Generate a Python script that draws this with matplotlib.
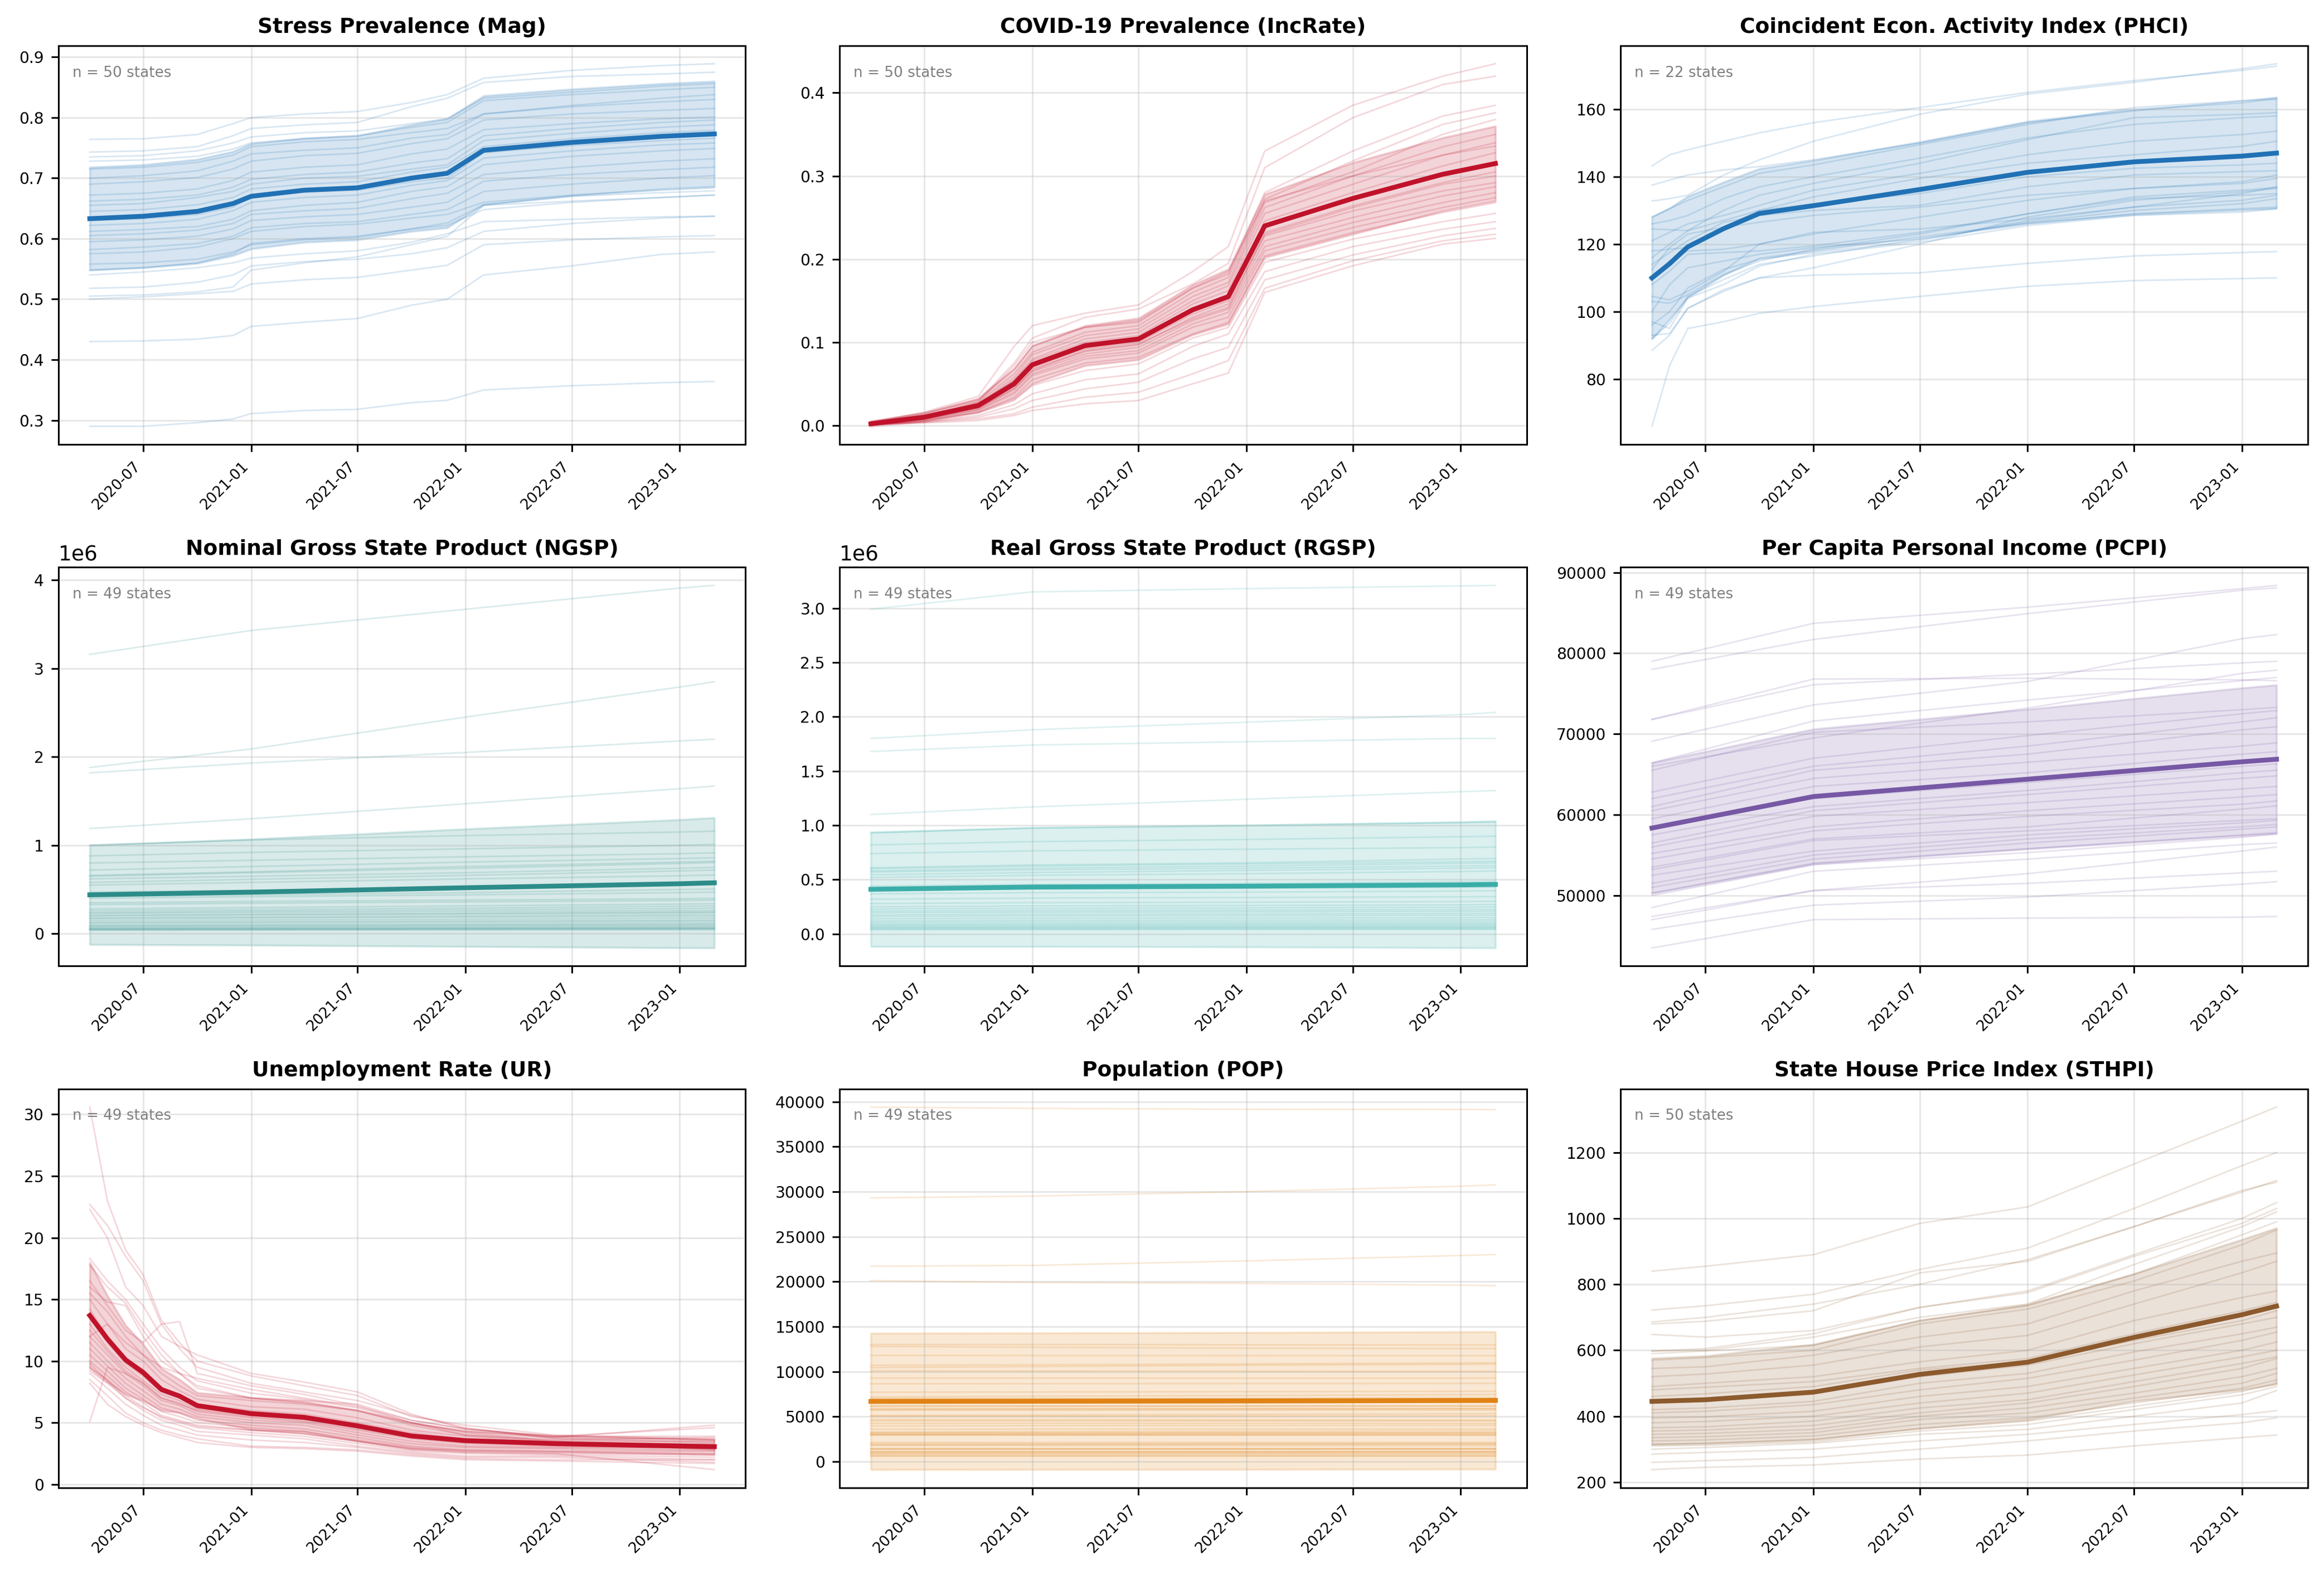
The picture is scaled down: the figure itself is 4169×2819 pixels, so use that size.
"""State-level indicator panels: thin state lines, mean +/- 1 sd band, bold mean."""
import numpy as np
import pandas as pd
import matplotlib

matplotlib.use("Agg")
import matplotlib.pyplot as plt
import matplotlib.dates as mdates

DPI = 270

COLORS = {
    "stress": "#2171b5",
    "covid": "#c0122a",
    "phci": "#2171b5",
    "ngsp": "#2c8c89",
    "rgsp": "#3aada8",
    "pcpi": "#7758a5",
    "ur": "#c0122a",
    "pop": "#e08214",
    "sthpi": "#8c5a2d",
}

# --- Stress prevalence (Mag) -------------------------------------------------
STRESS_DATES = ["2020-04", "2020-07", "2020-10", "2020-12", "2021-01", "2021-04", "2021-07",
                "2021-10", "2021-12", "2022-02", "2022-07", "2022-12", "2023-03"]
STRESS_MEAN = [0.633, 0.637, 0.645, 0.658, 0.670, 0.680, 0.684, 0.700, 0.708, 0.746, 0.759, 0.769, 0.773]
STRESS_STD = [0.085, 0.085, 0.086, 0.086, 0.087, 0.086, 0.086, 0.088, 0.090, 0.090, 0.088, 0.087, 0.087]
STRESS_STATES = [
    [0.764, 0.765, 0.772, 0.790, 0.800, 0.806, 0.810, 0.825, 0.838, 0.865, 0.878, 0.886, 0.889],
    [0.743, 0.745, 0.752, 0.770, 0.782, 0.788, 0.792, 0.818, 0.832, 0.858, 0.868, 0.872, 0.875],
    [0.735, 0.737, 0.745, 0.758, 0.768, 0.775, 0.778, 0.790, 0.798, 0.832, 0.842, 0.852, 0.856],
    [0.728, 0.730, 0.736, 0.748, 0.758, 0.765, 0.770, 0.784, 0.792, 0.828, 0.838, 0.846, 0.850],
    [0.715, 0.718, 0.726, 0.738, 0.752, 0.760, 0.764, 0.775, 0.782, 0.806, 0.820, 0.832, 0.838],
    [0.700, 0.704, 0.712, 0.728, 0.740, 0.746, 0.750, 0.766, 0.772, 0.806, 0.818, 0.826, 0.830],
    [0.690, 0.694, 0.701, 0.715, 0.728, 0.737, 0.741, 0.757, 0.765, 0.796, 0.806, 0.812, 0.815],
    [0.672, 0.675, 0.682, 0.696, 0.710, 0.718, 0.722, 0.740, 0.748, 0.780, 0.790, 0.798, 0.801],
    [0.662, 0.665, 0.672, 0.685, 0.698, 0.706, 0.710, 0.725, 0.732, 0.770, 0.782, 0.792, 0.796],
    [0.655, 0.658, 0.668, 0.678, 0.690, 0.700, 0.703, 0.715, 0.722, 0.762, 0.774, 0.784, 0.788],
    [0.645, 0.648, 0.656, 0.668, 0.682, 0.690, 0.694, 0.710, 0.718, 0.752, 0.765, 0.775, 0.779],
    [0.630, 0.633, 0.640, 0.652, 0.668, 0.677, 0.680, 0.694, 0.700, 0.742, 0.754, 0.762, 0.766],
    [0.622, 0.625, 0.632, 0.646, 0.660, 0.668, 0.672, 0.688, 0.696, 0.733, 0.745, 0.755, 0.758],
    [0.612, 0.615, 0.620, 0.632, 0.646, 0.655, 0.660, 0.678, 0.686, 0.722, 0.736, 0.745, 0.749],
    [0.605, 0.608, 0.614, 0.625, 0.640, 0.646, 0.650, 0.666, 0.675, 0.706, 0.718, 0.728, 0.732],
    [0.595, 0.598, 0.604, 0.616, 0.630, 0.636, 0.640, 0.652, 0.660, 0.695, 0.706, 0.714, 0.718],
    [0.582, 0.586, 0.592, 0.604, 0.618, 0.625, 0.628, 0.640, 0.648, 0.678, 0.690, 0.700, 0.704],
    [0.575, 0.578, 0.586, 0.600, 0.612, 0.620, 0.624, 0.634, 0.640, 0.660, 0.672, 0.680, 0.684],
    [0.558, 0.560, 0.566, 0.578, 0.590, 0.598, 0.602, 0.616, 0.626, 0.656, 0.670, 0.676, 0.679],
    [0.548, 0.552, 0.560, 0.575, 0.592, 0.600, 0.604, 0.616, 0.622, 0.648, 0.660, 0.668, 0.672],
    [0.540, 0.545, 0.552, 0.560, 0.568, 0.575, 0.580, 0.594, 0.608, 0.628, 0.632, 0.636, 0.637],
    [0.518, 0.520, 0.528, 0.540, 0.555, 0.562, 0.566, 0.575, 0.585, 0.612, 0.625, 0.634, 0.637],
    [0.505, 0.507, 0.512, 0.520, 0.548, 0.560, 0.570, 0.590, 0.604, 0.655, 0.662, 0.668, 0.672],
    [0.500, 0.504, 0.509, 0.513, 0.525, 0.532, 0.536, 0.548, 0.556, 0.590, 0.598, 0.603, 0.605],
    [0.430, 0.431, 0.434, 0.440, 0.455, 0.462, 0.468, 0.490, 0.500, 0.540, 0.555, 0.574, 0.578],
    [0.290, 0.290, 0.296, 0.302, 0.311, 0.316, 0.318, 0.329, 0.333, 0.350, 0.357, 0.362, 0.364],
]

# --- COVID-19 prevalence (IncRate) ---------------------------------------------
COVID_DATES = STRESS_DATES
COVID_MEAN = [0.002, 0.010, 0.024, 0.050, 0.073, 0.096, 0.104, 0.139, 0.155, 0.240, 0.273, 0.302, 0.315]
COVID_STD = [0.003, 0.005, 0.008, 0.018, 0.023, 0.024, 0.025, 0.030, 0.033, 0.038, 0.043, 0.044, 0.045]
COVID_STATES = [
    [0.004, 0.016, 0.035, 0.095, 0.120, 0.135, 0.145, 0.185, 0.215, 0.330, 0.385, 0.420, 0.435],
    [0.003, 0.014, 0.030, 0.075, 0.105, 0.130, 0.140, 0.170, 0.195, 0.310, 0.370, 0.410, 0.420],
    [0.005, 0.015, 0.032, 0.068, 0.095, 0.118, 0.126, 0.165, 0.182, 0.280, 0.330, 0.372, 0.385],
    [0.003, 0.012, 0.028, 0.062, 0.088, 0.112, 0.120, 0.160, 0.178, 0.272, 0.318, 0.362, 0.376],
    [0.002, 0.011, 0.026, 0.058, 0.085, 0.108, 0.116, 0.155, 0.172, 0.268, 0.305, 0.350, 0.368],
    [0.002, 0.010, 0.025, 0.055, 0.080, 0.104, 0.112, 0.150, 0.168, 0.262, 0.300, 0.335, 0.350],
    [0.003, 0.012, 0.026, 0.054, 0.078, 0.100, 0.108, 0.146, 0.162, 0.255, 0.290, 0.325, 0.340],
    [0.002, 0.010, 0.023, 0.050, 0.074, 0.097, 0.106, 0.140, 0.157, 0.246, 0.280, 0.312, 0.328],
    [0.001, 0.009, 0.022, 0.048, 0.071, 0.094, 0.102, 0.137, 0.152, 0.240, 0.272, 0.302, 0.316],
    [0.002, 0.009, 0.022, 0.047, 0.070, 0.092, 0.100, 0.134, 0.150, 0.232, 0.264, 0.292, 0.305],
    [0.001, 0.008, 0.021, 0.045, 0.068, 0.089, 0.097, 0.130, 0.146, 0.228, 0.258, 0.282, 0.292],
    [0.001, 0.008, 0.020, 0.043, 0.065, 0.086, 0.094, 0.126, 0.140, 0.222, 0.250, 0.276, 0.287],
    [0.002, 0.007, 0.019, 0.040, 0.062, 0.083, 0.090, 0.122, 0.136, 0.215, 0.244, 0.268, 0.280],
    [0.001, 0.007, 0.018, 0.038, 0.060, 0.080, 0.087, 0.118, 0.130, 0.210, 0.238, 0.262, 0.274],
    [0.001, 0.006, 0.016, 0.034, 0.055, 0.075, 0.082, 0.110, 0.124, 0.204, 0.232, 0.256, 0.268],
    [0.001, 0.006, 0.015, 0.030, 0.048, 0.066, 0.074, 0.105, 0.118, 0.196, 0.224, 0.245, 0.255],
    [0.001, 0.005, 0.012, 0.025, 0.038, 0.055, 0.062, 0.095, 0.110, 0.185, 0.215, 0.236, 0.245],
    [0.001, 0.004, 0.010, 0.020, 0.030, 0.044, 0.052, 0.080, 0.094, 0.175, 0.205, 0.228, 0.237],
    [0.001, 0.004, 0.008, 0.014, 0.022, 0.034, 0.040, 0.062, 0.078, 0.165, 0.198, 0.222, 0.230],
    [0.001, 0.003, 0.006, 0.012, 0.018, 0.026, 0.030, 0.050, 0.063, 0.160, 0.192, 0.218, 0.225],
    [0.002, 0.010, 0.028, 0.072, 0.100, 0.118, 0.124, 0.165, 0.185, 0.270, 0.300, 0.325, 0.336],
    [0.002, 0.009, 0.021, 0.044, 0.066, 0.090, 0.098, 0.128, 0.142, 0.230, 0.262, 0.290, 0.300],
]

# --- Coincident economic activity index (PHCI) --------------------------------
PHCI_DATES = ["2020-04", "2020-05", "2020-06", "2020-08", "2020-10", "2021-01", "2021-07",
              "2022-01", "2022-07", "2023-01", "2023-03"]
PHCI_MEAN = [110.0, 114.2, 119.2, 124.6, 129.1, 131.4, 136.2, 141.3, 144.4, 146.1, 147.0]
PHCI_STD = [18.1, 16.5, 15.0, 13.8, 13.3, 13.4, 14.1, 15.1, 15.6, 16.0, 16.4]
PHCI_STATES = [
    [143.2, 146.5, 148.0, 150.5, 153.0, 156.0, 160.5, 165.0, 168.5, 171.5, 172.8],
    [132.8, 133.5, 134.5, 140.5, 145.0, 150.5, 158.5, 164.5, 168.0, 172.0, 173.5],
    [137.5, 139.0, 140.5, 142.0, 143.0, 145.0, 150.0, 156.0, 159.5, 162.5, 163.5],
    [128.0, 130.5, 133.0, 137.0, 141.0, 143.5, 149.5, 155.5, 160.5, 162.5, 163.0],
    [124.5, 124.3, 124.0, 130.0, 134.5, 138.0, 144.0, 151.0, 157.5, 158.5, 159.0],
    [121.0, 123.5, 126.0, 128.5, 131.5, 136.0, 141.0, 146.5, 150.5, 152.5, 153.5],
    [118.0, 118.5, 119.0, 125.0, 130.0, 134.0, 139.5, 144.0, 146.5, 149.0, 150.5],
    [116.0, 120.0, 124.0, 127.0, 130.0, 132.0, 135.0, 140.0, 142.5, 143.5, 144.0],
    [114.0, 117.5, 121.0, 126.5, 128.5, 130.0, 131.5, 137.0, 140.5, 141.5, 141.8],
    [112.5, 119.0, 123.0, 125.0, 126.5, 128.5, 131.0, 134.5, 136.5, 138.5, 140.5],
    [110.0, 115.0, 118.0, 118.5, 120.0, 123.0, 128.0, 133.0, 136.5, 138.0, 139.5],
    [108.0, 112.0, 117.0, 117.5, 118.0, 119.5, 123.5, 129.0, 134.0, 136.0, 136.8],
    [104.5, 103.5, 106.0, 112.0, 120.0, 123.5, 124.5, 127.5, 131.0, 135.0, 137.0],
    [103.0, 102.5, 105.0, 111.0, 115.0, 118.5, 123.0, 129.0, 133.5, 134.5, 135.0],
    [100.0, 108.0, 113.0, 115.0, 117.0, 119.0, 121.5, 126.5, 130.0, 132.0, 133.5],
    [97.0, 95.0, 104.0, 108.0, 113.5, 117.0, 120.5, 125.5, 128.5, 129.5, 130.5],
    [96.0, 100.0, 107.0, 112.5, 115.5, 117.5, 121.0, 127.0, 131.0, 133.0, 134.5],
    [93.0, 93.5, 101.0, 106.5, 110.0, 113.0, 120.0, 128.0, 133.0, 135.5, 136.5],
    [92.0, 96.5, 104.5, 109.5, 114.0, 116.5, 121.5, 126.0, 129.0, 130.5, 131.0],
    [88.5, 93.0, 101.0, 106.0, 110.0, 110.8, 111.5, 114.3, 116.5, 117.5, 117.8],
    [66.0, 84.0, 95.0, 97.0, 99.5, 101.5, 104.5, 107.5, 109.2, 109.8, 110.0],
    [126.0, 127.0, 128.5, 133.5, 137.0, 140.0, 145.5, 151.5, 155.5, 157.5, 158.0],
]

# --- Annual series share one date grid -----------------------------------------
ANNUAL_DATES = ["2020-04", "2021-01", "2022-01", "2023-01", "2023-03"]

# Nominal GSP, $bn (plotted in $m)
NGSP_MEAN = [440, 470, 520, 565, 576]
NGSP_STD = [563, 600, 665, 725, 737]
NGSP_STATES = [
    [3160, 3430, 3670, 3910, 3940], [1880, 2090, 2450, 2790, 2850],
    [1820, 1930, 2050, 2180, 2200], [1190, 1300, 1470, 1640, 1670],
    [1000, 1060, 1110, 1150, 1160], [880, 920, 960, 1000, 1010],
    [800, 830, 870, 905, 915], [720, 760, 810, 850, 860],
    [660, 700, 760, 810, 820], [650, 690, 740, 795, 805],
    [620, 650, 690, 740, 750], [580, 615, 660, 710, 720],
    [550, 580, 620, 655, 665], [470, 490, 520, 550, 555],
    [420, 440, 465, 500, 505], [400, 420, 440, 465, 470],
    [350, 365, 380, 395, 400], [330, 345, 360, 375, 380],
    [280, 295, 315, 335, 340], [260, 272, 290, 310, 315],
    [240, 255, 270, 285, 290], [230, 240, 250, 262, 265],
    [210, 220, 230, 245, 248], [200, 210, 222, 236, 240],
    [180, 188, 200, 215, 218], [170, 178, 188, 198, 200],
    [150, 156, 165, 175, 178], [130, 136, 145, 152, 155],
    [120, 125, 132, 140, 142], [100, 105, 112, 120, 122],
    [90, 94, 100, 106, 108], [80, 84, 90, 95, 96],
    [70, 73, 78, 82, 84], [60, 63, 67, 71, 72],
    [55, 57, 61, 64, 65], [50, 52, 55, 58, 59],
    [45, 47, 50, 52, 53], [40, 42, 44, 46, 47],
]

# Real GSP, $bn (plotted in $m)
RGSP_MEAN = [411, 432, 440, 452, 456]
RGSP_STD = [527, 548, 560, 580, 585]
RGSP_STATES = [
    [2990, 3150, 3180, 3205, 3210], [1800, 1880, 1950, 2020, 2040],
    [1680, 1740, 1770, 1800, 1800], [1100, 1170, 1240, 1310, 1320],
    [930, 975, 1000, 1025, 1030], [820, 850, 870, 895, 900],
    [740, 765, 780, 795, 800], [610, 635, 655, 690, 695],
    [600, 625, 645, 665, 670], [580, 605, 625, 650, 655],
    [570, 590, 605, 625, 630], [545, 565, 585, 605, 610],
    [520, 540, 555, 575, 580], [440, 455, 465, 480, 483],
    [400, 412, 420, 430, 432], [370, 380, 385, 395, 398],
    [320, 330, 335, 342, 344], [280, 288, 292, 298, 300],
    [250, 258, 262, 268, 270], [230, 236, 240, 246, 248],
    [210, 216, 220, 225, 226], [195, 200, 204, 208, 210],
    [175, 180, 184, 188, 190], [160, 165, 168, 172, 173],
    [140, 144, 147, 150, 151], [120, 124, 127, 130, 131],
    [105, 108, 110, 113, 114], [90, 93, 95, 97, 98],
    [80, 82, 84, 86, 87], [70, 72, 73, 75, 76],
    [60, 62, 63, 64, 65], [55, 56, 58, 59, 60],
    [45, 46, 47, 48, 49], [40, 41, 42, 43, 43],
]

# Per capita personal income, $
PCPI_MEAN = [58350, 62250, 64400, 66550, 66870]
PCPI_STD = [8100, 8350, 8650, 9150, 9200]
PCPI_STATES = [
    [79000, 83700, 85700, 88000, 88400], [78000, 81700, 84900, 87800, 88100],
    [71800, 76100, 77400, 78800, 79000], [71800, 76800, 76900, 76700, 76600],
    [69100, 73600, 76500, 81800, 82300], [66400, 71600, 74200, 76600, 77000],
    [66000, 69500, 73200, 77500, 77900], [65500, 70200, 71500, 73000, 73300],
    [62800, 67000, 69800, 72500, 72900], [62000, 66000, 68500, 71500, 72000],
    [61000, 65500, 67500, 70500, 70900], [60500, 64500, 66500, 68500, 68900],
    [59500, 63500, 65200, 67500, 67800], [58500, 62000, 64000, 66000, 66300],
    [57500, 61000, 63000, 65200, 65500], [56500, 60500, 62500, 64500, 64800],
    [56000, 59800, 61500, 63200, 63500], [55200, 58500, 60500, 62200, 62500],
    [54500, 58000, 59800, 61300, 61700], [53500, 57000, 58500, 60700, 61100],
    [53200, 56800, 58000, 59300, 59500], [52500, 55500, 57500, 59000, 59300],
    [51500, 55000, 57000, 58500, 58800], [51000, 54500, 56500, 58200, 58500],
    [50300, 54000, 55800, 57500, 57800], [50000, 53800, 55300, 57200, 57600],
    [48500, 53000, 54500, 56300, 56500], [47400, 50600, 52700, 55500, 56000],
    [47000, 50600, 51500, 52800, 53000], [45800, 48800, 49800, 51400, 51700],
    [43500, 47000, 47200, 47300, 47400],
]

# Population, thousands
POP_MEAN = [6680, 6700, 6730, 6780, 6790]
POP_STD = [7580, 7590, 7610, 7635, 7640]
POP_STATES = [
    [39400, 39250, 39150, 39130, 39120], [29300, 29500, 30000, 30600, 30750],
    [21700, 21800, 22300, 22900, 23000], [20100, 19900, 19800, 19600, 19550],
    [13000, 13000, 12980, 12960, 12960], [12800, 12700, 12600, 12550, 12540],
    [11800, 11780, 11770, 11760, 11760], [10700, 10750, 10850, 10950, 10980],
    [10450, 10550, 10700, 10800, 10830], [10080, 10050, 10040, 10030, 10030],
    [9280, 9270, 9260, 9270, 9280], [8640, 8650, 8660, 8680, 8690],
    [7710, 7730, 7760, 7800, 7810], [7170, 7250, 7340, 7430, 7450],
    [7020, 6990, 6980, 6990, 6990], [6910, 6950, 7020, 7080, 7100],
    [6790, 6800, 6820, 6840, 6850], [6150, 6160, 6170, 6180, 6180],
    [6180, 6170, 6165, 6165, 6170], [5890, 5890, 5895, 5900, 5900],
    [5780, 5800, 5830, 5860, 5870], [5710, 5710, 5715, 5720, 5720],
    [5120, 5170, 5240, 5310, 5330], [5030, 5040, 5060, 5080, 5090],
    [4660, 4640, 4610, 4590, 4580], [4510, 4510, 4515, 4525, 4530],
    [4240, 4250, 4245, 4240, 4240], [3960, 3980, 4000, 4020, 4025],
    [3580, 3600, 3610, 3620, 3620], [3280, 3320, 3370, 3410, 3420],
    [3190, 3195, 3200, 3200, 3200], [3110, 3130, 3160, 3190, 3195],
    [3010, 3020, 3040, 3050, 3055], [2960, 2955, 2945, 2940, 2940],
    [2940, 2935, 2935, 2935, 2935], [2120, 2115, 2115, 2114, 2114],
    [1960, 1965, 1965, 1970, 1970], [1850, 1880, 1920, 1950, 1955],
    [1790, 1785, 1775, 1770, 1770], [1450, 1445, 1440, 1438, 1438],
    [1378, 1385, 1390, 1398, 1400], [1363, 1370, 1380, 1385, 1386],
    [1085, 1095, 1110, 1125, 1128], [1097, 1095, 1094, 1093, 1093],
    [991, 1000, 1010, 1020, 1022], [887, 893, 902, 910, 912],
    [779, 777, 778, 780, 781], [643, 645, 646, 647, 647],
    [577, 578, 580, 582, 583],
]

# --- Unemployment rate (UR), % -----------------------------------------------
UR_DATES = ["2020-04", "2020-05", "2020-06", "2020-07", "2020-08", "2020-09", "2020-10",
            "2021-01", "2021-04", "2021-07", "2021-10", "2022-01", "2022-06", "2023-03"]
UR_MEAN = [13.7, 11.8, 10.1, 9.07, 7.70, 7.16, 6.39, 5.74, 5.44, 4.75, 3.93, 3.55, 3.31, 3.06]
UR_STD = [4.3, 3.5, 2.8, 2.3, 1.7, 1.35, 1.05, 1.3, 1.3, 1.25, 1.05, 0.8, 0.65, 0.65]
UR_STATES = [
    [30.6, 23.0, 19.0, 17.0, 13.3, 11.5, 10.0, 8.8, 8.0, 7.2, 5.5, 4.8, 4.0, 3.6],
    [22.7, 21.0, 18.5, 16.5, 13.0, 11.0, 9.5, 8.2, 7.5, 6.8, 5.6, 4.6, 3.7, 3.4],
    [22.3, 20.0, 16.0, 14.5, 12.0, 11.2, 10.5, 9.0, 8.3, 7.5, 5.7, 4.5, 3.9, 3.9],
    [18.3, 16.5, 15.0, 13.0, 11.0, 9.5, 8.4, 7.4, 6.9, 6.2, 5.0, 4.3, 3.8, 4.8],
    [17.8, 16.0, 14.7, 12.5, 10.5, 9.0, 7.8, 7.0, 6.8, 6.5, 5.2, 4.5, 3.9, 4.6],
    [16.5, 14.5, 12.5, 11.5, 13.0, 13.2, 9.0, 8.0, 7.3, 6.4, 5.0, 4.2, 3.5, 3.5],
    [15.5, 14.0, 12.0, 10.5, 9.0, 8.0, 7.2, 6.8, 6.5, 6.0, 4.8, 4.0, 3.6, 3.8],
    [15.0, 13.0, 11.0, 10.0, 8.5, 7.6, 6.9, 6.3, 6.1, 5.4, 4.4, 3.9, 3.4, 3.3],
    [14.2, 12.0, 10.2, 9.3, 7.8, 7.2, 6.5, 6.0, 5.7, 5.0, 4.2, 3.7, 3.4, 3.2],
    [13.5, 11.5, 9.8, 8.8, 7.5, 7.0, 6.2, 5.8, 5.5, 4.8, 4.0, 3.6, 3.3, 3.1],
    [13.0, 11.0, 9.5, 8.4, 7.3, 6.8, 6.1, 5.6, 5.3, 4.6, 3.8, 3.4, 3.2, 3.0],
    [12.5, 10.8, 9.2, 8.2, 7.0, 6.6, 5.9, 5.4, 5.1, 4.4, 3.7, 3.3, 3.1, 2.9],
    [12.0, 10.5, 9.0, 8.0, 6.8, 6.4, 5.7, 5.2, 5.0, 4.2, 3.5, 3.1, 3.0, 3.0],
    [11.5, 10.0, 8.6, 7.6, 6.5, 6.1, 5.5, 5.0, 4.8, 4.0, 3.3, 3.0, 2.9, 2.8],
    [11.0, 9.6, 8.2, 7.2, 6.2, 5.8, 5.2, 4.8, 4.5, 3.8, 3.1, 2.8, 2.7, 2.7],
    [10.5, 9.2, 7.8, 6.9, 5.9, 5.5, 5.0, 4.6, 4.3, 3.6, 3.0, 2.7, 2.6, 2.5],
    [10.0, 8.8, 7.5, 6.6, 5.6, 5.2, 4.8, 4.4, 4.1, 3.5, 2.9, 2.6, 2.5, 2.4],
    [9.5, 8.5, 7.2, 6.3, 5.4, 5.0, 4.6, 4.2, 3.9, 3.3, 2.7, 2.5, 2.4, 2.2],
    [9.2, 8.2, 7.0, 6.0, 5.2, 4.8, 4.3, 4.0, 3.7, 3.1, 2.6, 2.3, 2.3, 2.0],
    [9.0, 7.8, 6.5, 5.6, 4.8, 4.4, 4.0, 3.6, 3.4, 3.0, 2.5, 2.2, 2.2, 1.8],
    [8.5, 7.2, 5.8, 5.0, 4.4, 4.0, 3.7, 3.1, 3.0, 2.8, 2.4, 2.1, 2.0, 2.0],
    [8.2, 6.5, 5.5, 4.8, 4.2, 3.8, 3.4, 3.0, 2.9, 2.7, 2.3, 2.0, 1.9, 1.7],
    [5.1, 9.5, 9.0, 8.2, 7.0, 6.5, 6.0, 5.5, 5.2, 4.5, 3.8, 3.5, 3.2, 3.2],
    [12.0, 13.0, 11.5, 10.5, 9.5, 9.0, 8.6, 7.7, 7.0, 6.3, 5.2, 4.5, 3.8, 3.6],
    [16.0, 14.8, 14.5, 12.0, 10.0, 9.0, 8.0, 7.0, 6.6, 6.0, 5.0, 4.0, 3.5, 2.8],
    [9.8, 8.4, 7.0, 6.2, 5.5, 5.1, 4.7, 4.4, 4.3, 3.5, 2.8, 2.6, 2.5, 1.2],
]

# --- State house price index (STHPI) ------------------------------------------
STHPI_DATES = ["2020-04", "2020-07", "2021-01", "2021-07", "2022-01", "2022-07", "2023-01", "2023-03"]
STHPI_MEAN = [445, 450, 473, 527, 564, 639, 708, 734]
STHPI_STD = [131, 133, 145, 164, 175, 193, 228, 237]
STHPI_STATES = [
    [840, 855, 890, 985, 1035, 1165, 1295, 1338], [722, 735, 770, 845, 910, 1030, 1160, 1200],
    [686, 700, 740, 800, 875, 975, 1080, 1115], [680, 688, 720, 835, 870, 975, 1085, 1110],
    [648, 640, 660, 730, 780, 890, 1000, 1048], [598, 605, 650, 730, 775, 885, 985, 1030],
    [598, 600, 640, 700, 740, 860, 975, 1020], [590, 598, 615, 690, 735, 830, 950, 990],
    [570, 578, 600, 680, 725, 810, 920, 965], [545, 550, 585, 640, 680, 780, 870, 895],
    [520, 528, 555, 610, 645, 740, 835, 870], [490, 500, 520, 565, 600, 690, 760, 780],
    [480, 488, 505, 545, 575, 650, 720, 745], [460, 468, 490, 540, 565, 630, 690, 720],
    [440, 445, 470, 520, 555, 620, 680, 700], [420, 425, 445, 500, 530, 595, 650, 670],
    [410, 415, 435, 480, 515, 570, 630, 655], [395, 398, 415, 460, 490, 545, 600, 625],
    [380, 384, 400, 440, 470, 525, 580, 600], [365, 368, 385, 425, 450, 505, 560, 580],
    [355, 358, 372, 410, 440, 490, 545, 575], [345, 348, 360, 400, 425, 470, 520, 545],
    [335, 338, 350, 390, 410, 455, 500, 530], [325, 328, 340, 375, 395, 440, 485, 510],
    [315, 318, 330, 362, 385, 430, 475, 500], [310, 312, 322, 355, 375, 420, 465, 490],
    [300, 305, 318, 345, 360, 400, 440, 478], [285, 290, 300, 325, 345, 375, 405, 417],
    [260, 265, 275, 300, 325, 355, 380, 395], [238, 245, 252, 270, 282, 310, 335, 343],
]

BN_TO_M = 1e3  # GSP lists above are in $bn, the chart axis is in $m


def draw_panel(ax, title, dates, mean, std, states, n_states, color, scale=1.0):
    x = pd.to_datetime(dates)
    mean = np.asarray(mean, dtype=float) * scale
    std = np.asarray(std, dtype=float) * scale
    for row in states:
        ax.plot(x, np.asarray(row, dtype=float) * scale, color=color, lw=0.75, alpha=0.17)
    ax.fill_between(x, mean - std, mean + std, color=color, alpha=0.18, lw=1.0)
    ax.plot(x, mean, color=color, lw=2.3)
    ax.set_title(title, fontsize=10, fontweight="bold")
    ax.text(0.02, 0.95, f"n = {n_states} states", transform=ax.transAxes,
            fontsize=7, color="gray", va="top")
    ax.grid(alpha=0.3)
    ax.xaxis.set_major_locator(mdates.MonthLocator(bymonth=[1, 7]))
    ax.xaxis.set_major_formatter(mdates.DateFormatter("%Y-%m"))
    ax.tick_params(axis="x", labelsize=7)
    ax.tick_params(axis="y", labelsize=7.5)
    for lbl in ax.get_xticklabels():
        lbl.set_rotation(45)
        lbl.set_ha("right")


fig, axes = plt.subplots(3, 3, figsize=(4169 / DPI, 2819 / DPI))
fig.subplots_adjust(left=0.0252, right=0.993, bottom=0.0536, top=0.971, wspace=0.137, hspace=0.308)

draw_panel(axes[0, 0], "Stress Prevalence (Mag)", STRESS_DATES, STRESS_MEAN, STRESS_STD,
           STRESS_STATES, 50, COLORS["stress"])
draw_panel(axes[0, 1], "COVID-19 Prevalence (IncRate)", COVID_DATES, COVID_MEAN, COVID_STD,
           COVID_STATES, 50, COLORS["covid"])
draw_panel(axes[0, 2], "Coincident Econ. Activity Index (PHCI)", PHCI_DATES, PHCI_MEAN, PHCI_STD,
           PHCI_STATES, 22, COLORS["phci"])
draw_panel(axes[1, 0], "Nominal Gross State Product (NGSP)", ANNUAL_DATES, NGSP_MEAN, NGSP_STD,
           NGSP_STATES, 49, COLORS["ngsp"], scale=BN_TO_M)
draw_panel(axes[1, 1], "Real Gross State Product (RGSP)", ANNUAL_DATES, RGSP_MEAN, RGSP_STD,
           RGSP_STATES, 49, COLORS["rgsp"], scale=BN_TO_M)
draw_panel(axes[1, 2], "Per Capita Personal Income (PCPI)", ANNUAL_DATES, PCPI_MEAN, PCPI_STD,
           PCPI_STATES, 49, COLORS["pcpi"])
draw_panel(axes[2, 0], "Unemployment Rate (UR)", UR_DATES, UR_MEAN, UR_STD,
           UR_STATES, 49, COLORS["ur"])
draw_panel(axes[2, 1], "Population (POP)", ANNUAL_DATES, POP_MEAN, POP_STD,
           POP_STATES, 49, COLORS["pop"])
draw_panel(axes[2, 2], "State House Price Index (STHPI)", STHPI_DATES, STHPI_MEAN, STHPI_STD,
           STHPI_STATES, 50, COLORS["sthpi"])

fig.savefig("out.png", dpi=DPI)
plt.close(fig)
